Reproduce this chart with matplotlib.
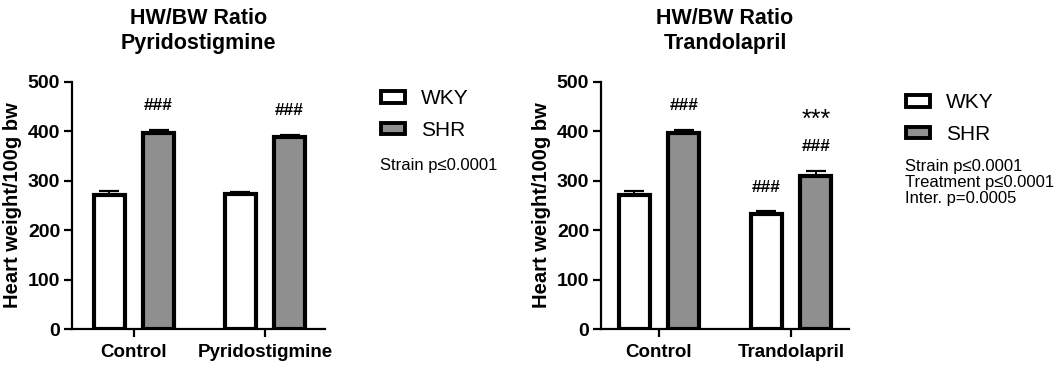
import matplotlib
matplotlib.use("Agg")
import matplotlib.pyplot as plt
import numpy as np
from matplotlib.patches import Patch

plt.rcParams['font.family'] = ['Liberation Sans', 'DejaVu Sans']

# ---- data ----
groups = ["WKY", "SHR"]
pyr_cats = ["Control", "Pyridostigmine"]
pyr_wky = [272, 273]
pyr_wky_err = [7, 5]
pyr_shr = [397, 388]
pyr_shr_err = [6, 5]
pyr_marks_wky = ["", ""]
pyr_marks_shr = ["###", "###"]
pyr_star_shr = ["", ""]
pyr_stats = "Strain p\u22640.0001"

tra_cats = ["Control", "Trandolapril"]
tra_wky = [272, 233]
tra_wky_err = [7, 5]
tra_shr = [397, 310]
tra_shr_err = [6, 10]
tra_marks_wky = ["", "###"]
tra_marks_shr = ["###", "###"]
tra_star_shr = ["", "***"]
tra_stats = "Strain p\u22640.0001\nTreatment p\u22640.0001\nInter. p=0.0005"

yticks = [0, 100, 200, 300, 400, 500]
colors = ["white", "#8f8f8f"]

W, H = 1057, 365
fig = plt.figure(figsize=(W / 100, H / 100), dpi=100)


def panel(rect, title, cats, wky, wky_err, shr, shr_err, m_wky, m_shr, stars, xlim):
    ax = fig.add_axes(rect)
    x = np.arange(len(cats))
    off = 0.188
    bw = 0.235
    for vals, errs, marks, dx, col in [(wky, wky_err, m_wky, -off, colors[0]),
                                       (shr, shr_err, m_shr, off, colors[1])]:
        ax.bar(x + dx, vals, width=bw, color=col, edgecolor="black",
               linewidth=3.0, zorder=2)
        ax.errorbar(x + dx, vals, yerr=[np.zeros(len(errs)), errs], fmt="none",
                    ecolor="black", elinewidth=1.4, capsize=7, capthick=1.6,
                    zorder=1)
        for xi, v, e, m in zip(x + dx, vals, errs, marks):
            if m:
                ax.annotate(m, (xi, v + e), xytext=(0, 12), textcoords="offset points",
                            ha="center", va="bottom", fontsize=12.5,
                            fontweight="bold")
    for xi, v, e, s in zip(x + off, shr, shr_err, stars):
        if s:
            ax.annotate(s, (xi, v + e), xytext=(0, 28), textcoords="offset points",
                        ha="center", va="bottom", fontsize=18)
    ax.set_xlim(*xlim)
    ax.set_ylim(0, 500)
    ax.set_yticks(yticks)
    ax.set_xticks(x)
    ax.set_xticklabels(cats)
    for s in ["top", "right"]:
        ax.spines[s].set_visible(False)
    for s in ["left", "bottom"]:
        ax.spines[s].set_linewidth(1.6)
    ax.tick_params(axis="both", width=1.6, length=5.5, labelsize=14, pad=3)
    ax.tick_params(axis="x", labelsize=13.5, pad=5)
    for lab in ax.get_xticklabels() + ax.get_yticklabels():
        lab.set_fontweight("bold")
    ax.set_ylabel("Heart weight/100g bw", fontsize=14.5, fontweight="bold", labelpad=4)
    ax.set_title(title, fontsize=15.5, fontweight="bold", pad=24, linespacing=1.25)
    return ax


ax1 = panel([72 / W, 1 - 329 / H, 253 / W, 247 / H], "HW/BW Ratio\nPyridostigmine",
            pyr_cats, pyr_wky, pyr_wky_err, pyr_shr, pyr_shr_err,
            pyr_marks_wky, pyr_marks_shr, pyr_star_shr, (-0.473, 1.458))
ax2 = panel([601 / W, 1 - 329 / H, 248 / W, 247 / H], "HW/BW Ratio\nTrandolapril",
            tra_cats, tra_wky, tra_wky_err, tra_shr, tra_shr_err,
            tra_marks_wky, tra_marks_shr, tra_star_shr, (-0.44, 1.44))

handles = [Patch(facecolor=c, edgecolor="black", linewidth=2.8) for c in colors]
for lx, ly, stats, sy in [(381, 89, pyr_stats, 158), (906, 93, tra_stats, 159)]:
    fig.legend(handles, groups, loc="upper left", bbox_to_anchor=(lx / W, 1 - ly / H),
               frameon=False, fontsize=15, handlelength=1.15, handleheight=0.5,
               handletextpad=0.75, labelspacing=0.62, borderpad=0, borderaxespad=0)
    fig.text((lx - 1) / W, 1 - sy / H, stats, fontsize=12, va="top", ha="left",
             linespacing=1.1)

fig.savefig("out.png", dpi=100)
